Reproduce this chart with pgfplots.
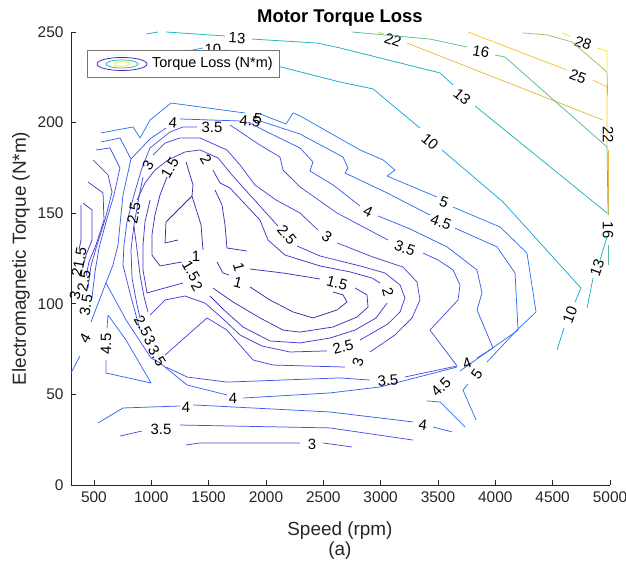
\documentclass[border=0pt]{standalone}
\usepackage{fontspec}
\setmainfont{Liberation Sans}
\usepackage{pgfplots}
\pgfplotsset{compat=1.18}
\definecolor{axgray}{RGB}{38,38,38}
\definecolor{lvA}{RGB}{62,38,168}
\definecolor{lvB}{RGB}{66,46,186}
\definecolor{lvC}{RGB}{68,54,200}
\definecolor{lvD}{RGB}{70,62,212}
\definecolor{lvE}{RGB}{70,72,222}
\definecolor{lvF}{RGB}{66,84,232}
\definecolor{lvG}{RGB}{56,98,238}
\definecolor{lvH}{RGB}{46,110,242}
\definecolor{lvI}{RGB}{40,122,240}
\definecolor{lvJ}{RGB}{25,165,215}
\definecolor{lvK}{RGB}{30,180,190}
\definecolor{lvL}{RGB}{90,190,140}
\definecolor{lvM}{RGB}{165,190,95}
\definecolor{lvN}{RGB}{238,180,64}
\definecolor{lvO}{RGB}{250,195,45}
\definecolor{lvP}{RGB}{245,230,30}
\newcommand\lab[4]{\node[rotate=#3,inner sep=0pt,font=\fontsize{15}{15}\selectfont] at (axis cs:#1,#2) {#4};}
\newcommand\cpl[2]{\addplot[color=#1] coordinates {#2};}
\begin{document}
\begin{tikzpicture}
\useasboundingbox (-71bp,-85bp) rectangle (555bp,485bp);
\begin{axis}[
  at={(0,0)}, anchor=south west,
  scale only axis, width=539bp, height=453bp,
  xmin=300, xmax=5000, ymin=0, ymax=250,
  axis x line*=bottom, axis y line*=left,
  axis line style={axgray, line width=0.6bp, -},
  tick align=inside, major tick length=5bp,
  every tick/.style={axgray, line width=0.6bp},
  xtick={500,1000,...,5000}, ytick={0,50,...,250},
  tick label style={font=\fontsize{15.5}{15.5}\selectfont, text=axgray},
  xticklabel style={yshift=-3bp},
  yticklabel style={xshift=-4bp},
  /pgf/number format/assume math mode=true,
  /pgf/number format/1000 sep={},
  scaled ticks=false,
  clip=false,
  every axis plot/.append style={line width=0.75bp, line join=round},
]
% ---- 28
\cpl{lvP}{(4582,249.5)(4651,247.8)}
\cpl{lvP}{(4887,241.2)(4974,239.5)(4974,229.0)}
\lab{4765}{243.9}{-20}{28}
% ---- 25
\cpl{lvO}{(3762,250)(4625,229.0)}
\cpl{lvO}{(4852,223.5)(4974,219.7)(4974,186.0)}
\lab{4721}{225.2}{-20}{25}
% ---- 22
\cpl{lvN}{(2977,250)(3029,248.9)}
\cpl{lvN}{(3230,243.9)(4939,201.4)}
\cpl{lvN}{(4983,184.9)(4983,149.0)}
\lab{3108}{245.6}{-20}{22}
\lab{4983}{193.2}{-90}{22}
% ---- 19
\cpl{lvM}{(4241,249.5)(4451,248.4)(4669,244.5)(4974,227.9)(4980,215)}
% ---- 16
\cpl{lvL}{(2750,250)(3430,246.1)(3753,241.7)}
\lab{3875}{239.0}{-10}{16}
\cpl{lvL}{(3997,237.3)(4084,236.2)(4974,186.5)(4983,149.0)}
\lab{4983}{140.7}{-90}{16}
\cpl{lvL}{(4983,132.5)(4983,121.4)}
% ---- 13
\cpl{lvK}{(954,248.9)(1059,250)}
\cpl{lvK}{(1128,250)(1643,247.8)}
\lab{1748}{246.7}{-3}{13}
\cpl{lvK}{(1878,246.1)(2445,243.9)(2646,241.2)(3518,227.4)(3631,220.8)}
\lab{3710}{214.1}{-40}{13}
\cpl{lvK}{(3823,209.2)(4974,150.1)}
\cpl{lvK}{(4974,136.9)(4913,124.2)}
\lab{4887}{119.8}{70}{13}
\cpl{lvK}{(4852,114.2)(4800,97.7)}
% ---- 10
\cpl{lvJ}{(1277,239.0)(1451,241.2)}
\lab{1538}{240.3}{0}{10}
\cpl{lvJ}{(1643,240.1)(2061,231.8)(2646,222.4)(2933,218.6)(3343,197.0)}
\lab{3430}{189.3}{-40}{10}
\cpl{lvJ}{(3535,184.9)(4067,156.2)(4747,108.7)(4695,101.0)}
\lab{4651}{93.8}{70}{10}
\cpl{lvJ}{(4599,86.6)(4538,74.5)}
% ---- 5
\cpl{lvI}{(562,194.3)(841,197.6)(902,191.5)(989,201.4)(1172,210.8)(1817,205.3)}
\cpl{lvI}{(1948,204.8)(2175,199.2)(2236,205.3)(2297,203.7)(2820,184.9)(3021,179.4)(3125,173.8)(3056,170.5)(3492,158.9)}
\lab{3553}{156.2}{-20}{5}
\cpl{lvI}{(3631,153.4)(4041,142.4)(4276,128.0)(4355,95.5)(4189,85.5)(3928,67.9)}
\lab{3840}{61.3}{55}{5}
\cpl{lvI}{(3762,55.7)(3718,52.4)(3832,35.9)}
\lab{1861}{200.9}{-5}{4.5}
\lab{1931}{202.0}{-5}{5}
% ---- 4.5
\cpl{lvH}{(1948,200.9)(2297,193.7)(2672,181.0)(2715,175.0)(2689,172.2)(3056,161.2)(3430,149.0)}
\lab{3526}{145.1}{-20}{4.5}
\cpl{lvH}{(3648,141.8)(4015,131.4)(4172,117.0)(4198,85.5)(3692,62.9)}
\lab{3526}{54.1}{45}{4.5}
\cpl{lvH}{(3404,46.4)(3518,45.8)(3736,32.0)}
\cpl{lvH}{(614,86.6)(623,93.8)(780,80.0)(998,56.3)(605,61.8)(605,69.0)}
\lab{605}{77.8}{90}{4.5}
% ---- 4
\cpl{lvG}{(562,189.3)(727,191.5)(823,179.9)(989,191.0)(1128,197.0)}
\lab{1189}{199.8}{-5}{4}
\cpl{lvG}{(1250,202.0)(1774,200.9)}
\cpl{lvG}{(823,179.9)(753,160.0)(710,132.5)(666,121.4)(605,111.5)}
\cpl{lvG}{(300,61.8)(378,71.2)}
\lab{422}{81.1}{60}{4}
\cpl{lvG}{(474,90.0)(605,111.5)(780,91.1)(998,70.1)(1076,67.3)(1312,55.2)(1660,49.7)}
\lab{1713}{48.0}{0}{4}
\cpl{lvG}{(1800,48.0)(2558,50.8)(2994,54.1)(3666,65.1)}
\lab{3753}{67.3}{20}{4}
\cpl{lvG}{(3840,70.1)(3980,75.6)(3840,96.6)(3884,106.0)(3840,118.7)(3579,131.4)(3256,141.3)(2977,148.5)}
\lab{2890}{150.7}{-25}{4}
\cpl{lvG}{(2820,154.0)(2585,165.6)(2384,173.3)(2410,178.3)(2297,186.0)(1992,195.4)(1843,200.3)}
\cpl{lvG}{(535,34.2)(753,42.5)(1250,43.6)}
\lab{1303}{43.0}{0}{4}
\cpl{lvG}{(1364,44.2)(2558,40.3)(3282,34.8)}
\lab{3369}{33.1}{-8}{4}
\cpl{lvG}{(3457,32.0)(3622,29.3)}
% ---- 3.5
\cpl{lvF}{(3666,65.7)(3430,85.5)(3675,102.1)(3692,110.4)(3631,118.7)(3500,124.2)(3369,128.0)}
\lab{3212}{130.8}{-20}{3.5}
\cpl{lvF}{(3064,135.2)(2620,150.1)(2297,164.5)(2149,173.8)(2122,181.0)(1948,187.6)(1686,198.7)}
\lab{1529}{197.6}{0}{3.5}
\cpl{lvF}{(1399,197.6)(1277,197.6)(1163,194.8)(989,186.0)(919,175.0)(849,160.0)(788,145.1)(762,132.5)(753,121.4)(814,106.0)(902,85.5)}
\cpl{lvF}{(1128,65.1)(1312,59.6)(1660,56.8)(2646,59.1)(2907,57.9)}
\lab{3064}{57.9}{5}{3.5}
\cpl{lvF}{(3212,59.6)(3666,65.7)}
\cpl{lvF}{(727,27.0)(919,29.8)}
\lab{1085}{30.9}{0}{3.5}
\cpl{lvF}{(1250,33.1)(2558,31.5)(3282,24.8)}
\cpl{lvF}{(518,184.9)(640,186.0)(727,175.0)(675,160.0)(605,145.1)(544,130.8)(509,117.6)(483,103.2)}
% ---- 3
\lab{971}{176.6}{60}{3}
\cpl{lvE}{(1015,182.1)(1120,188.7)(1250,191.5)(1425,191.5)(1660,184.9)(1774,176.6)(1904,165.6)(2088,157.3)(2297,150.1)(2454,140.7)}
\lab{2532}{136.9}{-35}{3}
\cpl{lvE}{(2620,133.6)(2933,125.8)(3195,120.3)(3317,112.0)(3343,102.1)(3274,92.2)(3125,82.8)(2907,73.4)}
\lab{2803}{67.9}{75}{3}
\cpl{lvE}{(2689,65.1)(2061,66.2)(1887,69.0)(1660,85.5)(1486,92.2)(1120,71.7)}
\cpl{lvE}{(902,92.2)(876,99.3)(832,114.2)(823,129.7)(849,143.5)(893,158.9)(928,170.0)}
\cpl{lvE}{(1303,22.1)(1425,23.2)(2297,23.2)}
\lab{2402}{22.6}{0}{3}
\cpl{lvE}{(2497,23.2)(2750,21.0)}
\cpl{lvE}{(492,179.4)(623,171.1)(658,161.7)(596,146.2)(527,132.5)(474,120.9)(448,108.7)}
% ---- 2.5
\lab{849}{150.1}{80}{2.5}
\cpl{lvD}{(876,157.3)(945,166.7)(1032,173.8)(1146,179.4)(1294,183.8)(1425,184.9)(1582,180.5)(1704,171.1)(1861,160.0)(2018,149.0)(2105,142.9)}
\lab{2184}{138.0}{-50}{2.5}
\cpl{lvD}{(2271,131.9)(2471,126.4)(2820,120.9)(3038,117.0)(3169,110.4)(3212,103.2)(3169,95.5)(3064,88.9)(2820,80.0)}
\lab{2672}{76.2}{15}{2.5}
\cpl{lvD}{(2532,74.0)(2210,73.4)(1965,76.7)(1774,82.8)(1617,92.2)(1468,100.4)(1294,104.3)(1120,102.1)(989,93.8)}
\cpl{lvD}{(849,142.9)(876,129.7)(902,115.9)(937,103.8)(971,95.5)}
\cpl{lvD}{(448,167.2)(579,161.2)(588,146.2)(518,132.5)(457,123.1)(431,115.3)}
% ---- 2
\lab{1477}{179.4}{-60}{2}
\cpl{lvC}{(1538,173.8)(1599,166.7)(1686,163.9)(1948,146.2)(2018,135.2)(2166,126.9)(2471,120.9)(2733,117.6)(2925,114.2)(2994,111.5)}
\lab{3064}{106.5}{-75}{2}
\cpl{lvC}{(3056,100.4)(2960,92.2)(2777,85.5)(2558,81.1)(2297,78.4)(2035,79.5)(1800,87.2)(1634,96.6)(1512,104.3)}
\lab{1399}{109.8}{-60}{2}
\cpl{lvC}{(1277,111.5)(963,106.0)(928,118.7)(928,132.5)(945,145.1)(989,157.3)}
\cpl{lvC}{(405,155.6)(483,151.8)(483,135.2)(431,126.9)(405,120.9)}
% ---- 1.5
\lab{1163}{175.0}{60}{1.5}
\cpl{lvB}{(1137,170.0)(1076,160.0)(1032,149.0)(1006,138.0)(1006,126.9)(1076,120.9)(1268,123.1)}
\lab{1346}{118.1}{-60}{1.5}
\cpl{lvB}{(1861,119.2)(2149,117.0)(2471,113.7)}
\lab{2620}{111.5}{-15}{1.5}
\cpl{lvB}{(2777,108.7)(2881,104.9)(2890,98.2)(2794,92.7)(2585,87.2)(2297,84.4)(2149,85.5)(1948,92.2)(1713,101.0)(1538,108.7)}
\cpl{lvB}{(1556,162.8)(1617,154.5)(1643,143.5)(1660,130.8)(1835,129.1)}
\cpl{lvB}{(387,154.5)(387,135.2)(370,129.7)}
% ---- 1
\cpl{lvA}{(1573,123.1)(1625,117.0)(1678,115.9)}
\lab{1765}{120.3}{-75}{1}
\lab{1756}{111.5}{-15}{1}
\cpl{lvA}{(1861,109.3)(2035,102.1)(2236,95.5)(2410,92.2)(2620,96.6)(2707,101.0)(2672,104.9)(2585,106.5)}
\cpl{lvA}{(1233,135.2)(1120,133.6)(1128,145.1)(1355,159.5)(1434,143.5)(1451,129.7)}
\cpl{lvA}{(1355,159.5)(1364,165.6)(1303,178.3)}
\lab{1390}{126.4}{0}{1}
% left-edge labels
\lab{378}{125.3}{80}{1.5}
\lab{352}{117.0}{80}{2}
\lab{413}{112.6}{80}{2.5}
\lab{335}{104.3}{80}{3}
\lab{431}{99.3}{80}{3.5}
% cluster labels
\lab{928}{87.8}{-60}{2.5}
\lab{989}{79.5}{-60}{3}
\lab{1050}{71.2}{-60}{3.5}
% legend
\draw[black!55, line width=0.6bp, fill=white] (rel axis cs:0.0297,0.9007) rectangle (rel axis cs:0.3859,0.9603);
\draw[lvA, line width=0.75bp] (rel axis cs:0.0946,0.9294) ellipse [x radius=25bp, y radius=6.5bp];
\draw[lvK, line width=0.75bp] (rel axis cs:0.0946,0.9294) ellipse [x radius=16bp, y radius=4bp];
\draw[lvP, line width=0.75bp] (rel axis cs:0.0946,0.9294) ellipse [x radius=8bp, y radius=2.2bp];
\node[anchor=west, inner sep=0pt, font=\fontsize{14.5}{14.5}\selectfont] at (rel axis cs:0.1503,0.9294) {Torque Loss (N*m)};
% titles
\node[font=\bfseries\fontsize{18.5}{18.5}\selectfont] at (rel axis cs:0.499,1.0309) {Motor Torque Loss};
\node[font=\fontsize{19}{19}\selectfont, text=axgray] at (rel axis cs:0.499,-0.1015) {Speed (rpm)};
\node[font=\fontsize{19}{19}\selectfont, text=axgray] at (rel axis cs:0.499,-0.1457) {(a)};
\node[rotate=90, font=\fontsize{19}{19}\selectfont, text=axgray] at (rel axis cs:-0.0928,0.5) {Electromagnetic Torque (N*m)};
\end{axis}
\end{tikzpicture}
\end{document}
